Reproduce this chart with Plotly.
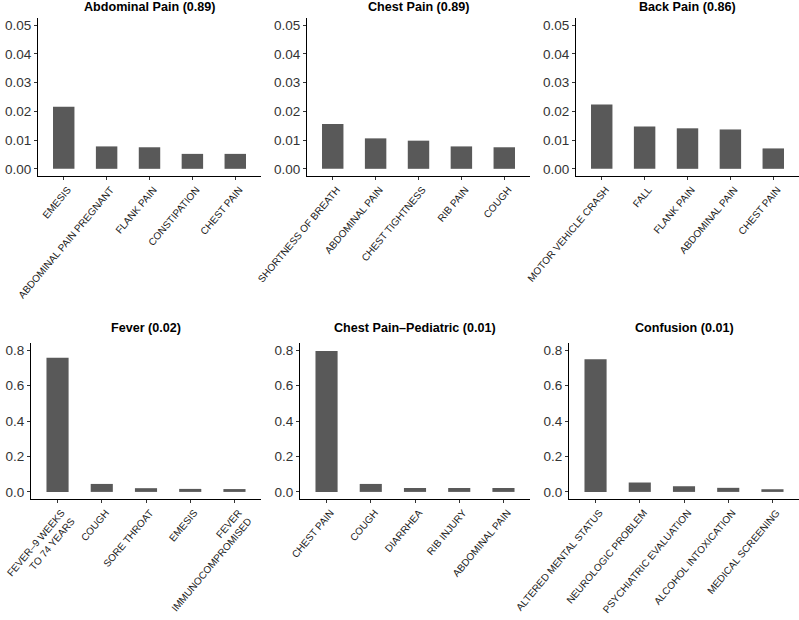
import plotly.graph_objects as go

# ---- data ----
abd_title = "Abdominal Pain (0.89)"
abd_cats = ["EMESIS", "ABDOMINAL PAIN PREGNANT", "FLANK PAIN", "CONSTIPATION", "CHEST PAIN"]
abd_vals = [0.0216, 0.0078, 0.0075, 0.0052, 0.0052]

chest_title = "Chest Pain (0.89)"
chest_cats = ["SHORTNESS OF BREATH", "ABDOMINAL PAIN", "CHEST TIGHTNESS", "RIB PAIN", "COUGH"]
chest_vals = [0.0156, 0.0106, 0.0098, 0.0078, 0.0075]

back_title = "Back Pain (0.86)"
back_cats = ["MOTOR VEHICLE CRASH", "FALL", "FLANK PAIN", "ABDOMINAL PAIN", "CHEST PAIN"]
back_vals = [0.0224, 0.0147, 0.0141, 0.0137, 0.0071]

fever_title = "Fever (0.02)"
fever_cats = ["FEVER–9 WEEKS<br>TO 74 YEARS", "COUGH", "SORE THROAT", "EMESIS", "FEVER<br>IMMUNOCOMPROMISED"]
fever_vals = [0.757, 0.045, 0.021, 0.017, 0.016]

ped_title = "Chest Pain–Pediatric (0.01)"
ped_cats = ["CHEST PAIN", "COUGH", "DIARRHEA", "RIB INJURY", "ABDOMINAL PAIN"]
ped_vals = [0.795, 0.045, 0.022, 0.022, 0.022]

conf_title = "Confusion (0.01)"
conf_cats = ["ALTERED MENTAL STATUS", "NEUROLOGIC PROBLEM", "PSYCHIATRIC EVALUATION", "ALCOHOL INTOXICATION", "MEDICAL SCREENING"]
conf_vals = [0.748, 0.053, 0.032, 0.023, 0.015]

top_ticks = [0, 0.01, 0.02, 0.03, 0.04, 0.05]
bottom_ticks = [0, 0.2, 0.4, 0.6, 0.8]

# ---- layout geometry ----
W, H = 799, 620
FONT = "Liberation Sans, Arial, Helvetica, sans-serif"
BAR = "#595959"

panels = [
    (abd_title, abd_cats, abd_vals, (38, 261), (18, 176), 7, top_ticks, [-0.0025, 0.0525], ".2f"),
    (chest_title, chest_cats, chest_vals, (307, 530), (18, 176), 7, top_ticks, [-0.0025, 0.0525], ".2f"),
    (back_title, back_cats, back_vals, (576, 799), (18, 176), 7, top_ticks, [-0.0025, 0.0525], ".2f"),
    (fever_title, fever_cats, fever_vals, (31, 261), (343, 499), 328, bottom_ticks, [-0.04, 0.84], ".1f"),
    (ped_title, ped_cats, ped_vals, (300, 530), (343, 499), 328, bottom_ticks, [-0.04, 0.84], ".1f"),
    (conf_title, conf_cats, conf_vals, (569, 799), (343, 499), 328, bottom_ticks, [-0.04, 0.84], ".1f"),
]

fig = go.Figure()
annotations = []
layout_axes = {}
for i, (title, cats, vals, xpx, ypx, ty, yt, yr, yfmt) in enumerate(panels, start=1):
    xa = "x" if i == 1 else f"x{i}"
    ya = "y" if i == 1 else f"y{i}"
    fig.add_trace(go.Bar(
        x=cats, y=vals, xaxis=xa, yaxis=ya, width=0.5,
        marker=dict(color=BAR, line=dict(width=0)), showlegend=False,
        hoverinfo="skip",
    ))
    xd = [xpx[0] / W, xpx[1] / W]
    yd = [1 - ypx[1] / H, 1 - ypx[0] / H]
    xkey = "xaxis" if i == 1 else f"xaxis{i}"
    ykey = "yaxis" if i == 1 else f"yaxis{i}"
    layout_axes[xkey] = dict(
        domain=xd, anchor=ya, type="category", range=[-0.6, 4.6],
        showline=True, linecolor="black", linewidth=1,
        ticks="outside", ticklen=3, tickwidth=1, tickcolor="#333333",
        tickangle=-50, ticklabelshift=4,
        tickfont=dict(family=FONT, size=10, color="#1a1a1a"),
        showgrid=False, zeroline=False, fixedrange=True, automargin=False,
    )
    layout_axes[ykey] = dict(
        domain=yd, anchor=xa, range=yr, tickvals=yt, tickformat=yfmt,
        showline=True, linecolor="black", linewidth=1,
        ticks="outside", ticklen=3, tickwidth=1, tickcolor="#333333",
        tickfont=dict(family=FONT, size=13.5, color="#333333"),
        showgrid=False, zeroline=False, fixedrange=True, automargin=False,
    )
    annotations.append(dict(
        text=f"<b>{title}</b>", xref="paper", yref="paper",
        x=(xd[0] + xd[1]) / 2, y=1 - ty / H,
        xanchor="center", yanchor="middle", showarrow=False,
        font=dict(family=FONT, size=12.6, color="black"),
    ))

fig.update_layout(
    width=W, height=H, margin=dict(l=0, r=0, t=0, b=0, pad=0, autoexpand=False),
    paper_bgcolor="white", plot_bgcolor="white",
    annotations=annotations, **layout_axes,
)

fig.write_html(
    "out.html",
    config={"displayModeBar": False, "staticPlot": True},
    post_script="document.body.style.margin='0';document.body.style.overflow='hidden';",
)
